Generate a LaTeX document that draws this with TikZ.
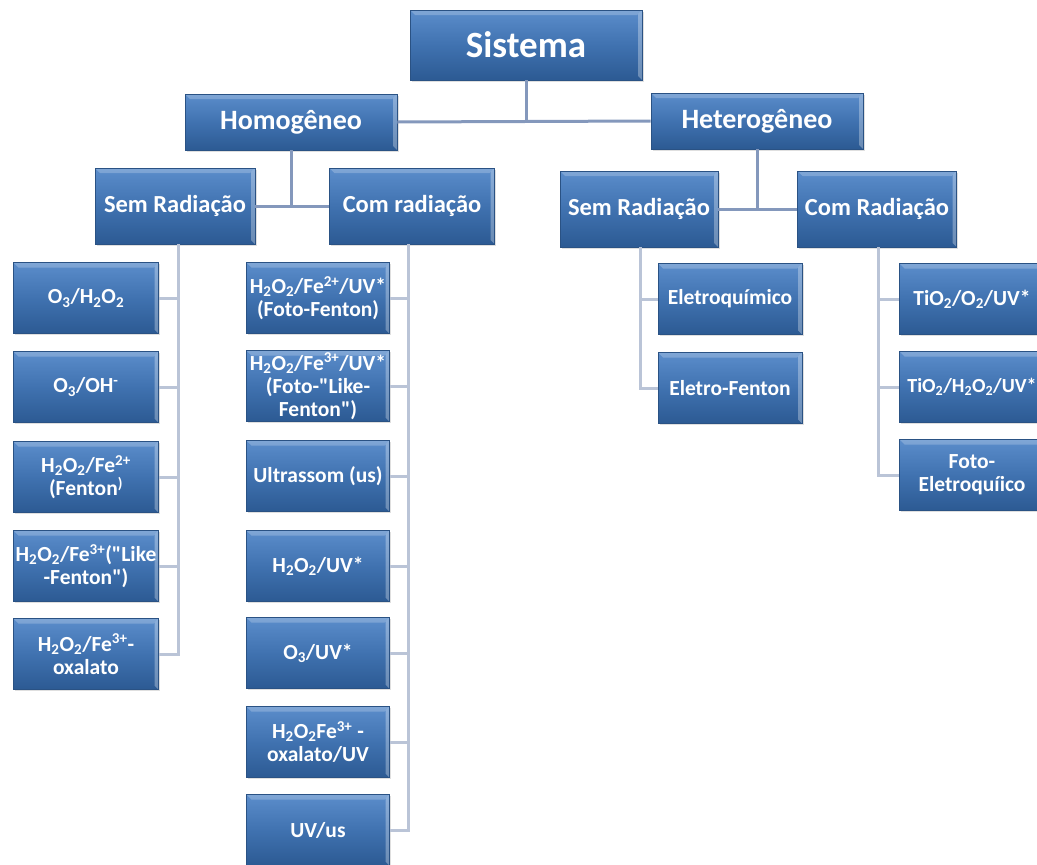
\documentclass[tikz,border=0pt]{standalone}
\usepackage{fontspec}
\setmainfont{Carlito}
\usetikzlibrary{shadows}

\definecolor{boxtop}{HTML}{5B8DCB}
\definecolor{boxmid}{HTML}{4072B0}
\definecolor{boxbot}{HTML}{2C5A93}
\definecolor{boxedge}{HTML}{2A5284}
\definecolor{linkdark}{HTML}{8498BC}
\definecolor{linklight}{HTML}{BAC4D7}

\begin{document}
\begin{tikzpicture}[
    x=1pt, y=-1pt,
    block/.style={rectangle, draw=boxedge, line width=0.6pt,
        top color=boxtop, bottom color=boxbot, middle color=boxmid,
        text=white, font=\bfseries, align=center, inner sep=0pt,
        drop shadow={opacity=0.25, shadow xshift=1.5pt, shadow yshift=-1.5pt},
        path picture={
            \fill[white, opacity=0.22] (path picture bounding box.north west)
                -- (path picture bounding box.north east)
                -- ([xshift=-5pt,yshift=-5pt]path picture bounding box.north east)
                -- ([xshift=5pt,yshift=-5pt]path picture bounding box.north west) -- cycle;
            \fill[white, opacity=0.30] (path picture bounding box.north east)
                -- (path picture bounding box.south east)
                -- ([xshift=-4pt,yshift=4pt]path picture bounding box.south east)
                -- ([xshift=-4pt,yshift=-4pt]path picture bounding box.north east) -- cycle;
        }},
    top/.style={block, minimum width=232pt, minimum height=70pt, font=\bfseries\fontsize{37}{40}\selectfont},
    kind/.style={block, minimum width=212pt, minimum height=56pt, font=\bfseries\fontsize{28}{32}\selectfont},
    group/.style={block, minimum width=160pt, minimum height=76pt, font=\bfseries\fontsize{24.5}{28}\selectfont},
    leaf/.style={block, minimum width=145pt, minimum height=71pt, font=\bfseries\fontsize{21.5}{23}\selectfont},
    mainlink/.style={draw=linkdark, line width=3pt},
    leaflink/.style={draw=linklight, line width=3pt}
]
\useasboundingbox (0,0) rectangle (1037,865);

% Split points of the upper links
\coordinate (split) at (526,122);
\coordinate (homosplit) at (291,206);
\coordinate (heterosplit) at (757,209);

% Level 0 and 1
\node[top] (sistema) at (526,45) {Sistema};
\node[kind] (homo) at (291,122) {Homogêneo};
\node[kind] (hetero) at (757,121) {Heterogêneo};

% Level 2
\node[group] (semhomo) at (175,206) {Sem Radiação};
\node[group, minimum width=165pt] (comhomo) at (412,206) {Com radiação};
\node[group, minimum width=158pt] (semhetero) at (639,209) {Sem Radiação};
\node[group, minimum width=159pt] (comhetero) at (877,209) {Com Radiação};

% Homogeneo, sem radiacao
\node[leaf] (o3h2o2) at (86,298) {O\textsubscript{3}/H\textsubscript{2}O\textsubscript{2}};
\node[leaf] (o3oh) at (86,387) {O\textsubscript{3}/OH\textsuperscript{-}};
\node[leaf] (fenton) at (86,477) {H\textsubscript{2}O\textsubscript{2}/Fe\textsuperscript{2+}\\(Fenton\textsuperscript{)}};
\node[leaf] (likefenton) at (86,566) {H\textsubscript{2}O\textsubscript{2}/Fe\textsuperscript{3+}(\textquotedbl Like\\-Fenton\textquotedbl)};
\node[leaf] (oxalato) at (86,654) {H\textsubscript{2}O\textsubscript{2}/Fe\textsuperscript{3+}-\\oxalato};

% Homogeneo, com radiacao
\node[leaf, minimum width=143pt] (fotofenton) at (318,298) {H\textsubscript{2}O\textsubscript{2}/Fe\textsuperscript{2+}/UV*\\(Foto-Fenton)};
\node[leaf, minimum width=143pt] (fotolike) at (318,386) {H\textsubscript{2}O\textsubscript{2}/Fe\textsuperscript{3+}/UV*\\(Foto-\textquotedbl Like-\\Fenton\textquotedbl)};
\node[leaf, minimum width=143pt] (ultrassom) at (318,476) {Ultrassom (us)};
\node[leaf, minimum width=143pt] (h2o2uv) at (318,566) {H\textsubscript{2}O\textsubscript{2}/UV*};
\node[leaf, minimum width=143pt] (o3uv) at (318,653) {O\textsubscript{3}/UV*};
\node[leaf, minimum width=143pt] (oxalatouv) at (318,742) {H\textsubscript{2}O\textsubscript{2}Fe\textsuperscript{3+} -\\oxalato/UV};
\node[leaf, minimum width=143pt] (uvus) at (318,830) {UV/us};

% Heterogeneo, sem radiacao
\node[leaf, minimum width=144pt] (eletroq) at (730,299) {Eletroquímico};
\node[leaf, minimum width=144pt] (eletrofenton) at (730,388) {Eletro-Fenton};

% Heterogeneo, com radiacao
\node[leaf] (tio2o2) at (972,299) {TiO\textsubscript{2}/O\textsubscript{2}/UV*};
\node[leaf, font=\bfseries\fontsize{20}{23}\selectfont] (tio2h2o2) at (972,387) {TiO\textsubscript{2}/H\textsubscript{2}O\textsubscript{2}/UV*};
\node[leaf] (fotoeletro) at (972,475) {Foto-\\Eletroquíico};

% Upper links
\draw[mainlink] (sistema.south) -- (split);
\draw[mainlink] (homo.east) -- (hetero.west);
\draw[mainlink] (homo.south) -- (homosplit);
\draw[mainlink] (semhomo.east) -- (comhomo.west);
\draw[mainlink] (hetero.south) -- (heterosplit);
\draw[mainlink] (semhetero.east) -- (comhetero.west);

% Leaf links
\foreach \n in {o3h2o2, o3oh, fenton, likefenton, oxalato}
    \draw[leaflink] ([xshift=3pt]semhomo.south) |- (\n.east);
\foreach \n in {fotofenton, fotolike, ultrassom, h2o2uv, o3uv, oxalatouv, uvus}
    \draw[leaflink] ([xshift=-4pt]comhomo.south) |- (\n.east);
\foreach \n in {eletroq, eletrofenton}
    \draw[leaflink] ([xshift=1pt]semhetero.south) |- (\n.west);
\foreach \n in {tio2o2, tio2h2o2, fotoeletro}
    \draw[leaflink] ([xshift=1pt]comhetero.south) |- (\n.west);

\end{tikzpicture}
\end{document}
